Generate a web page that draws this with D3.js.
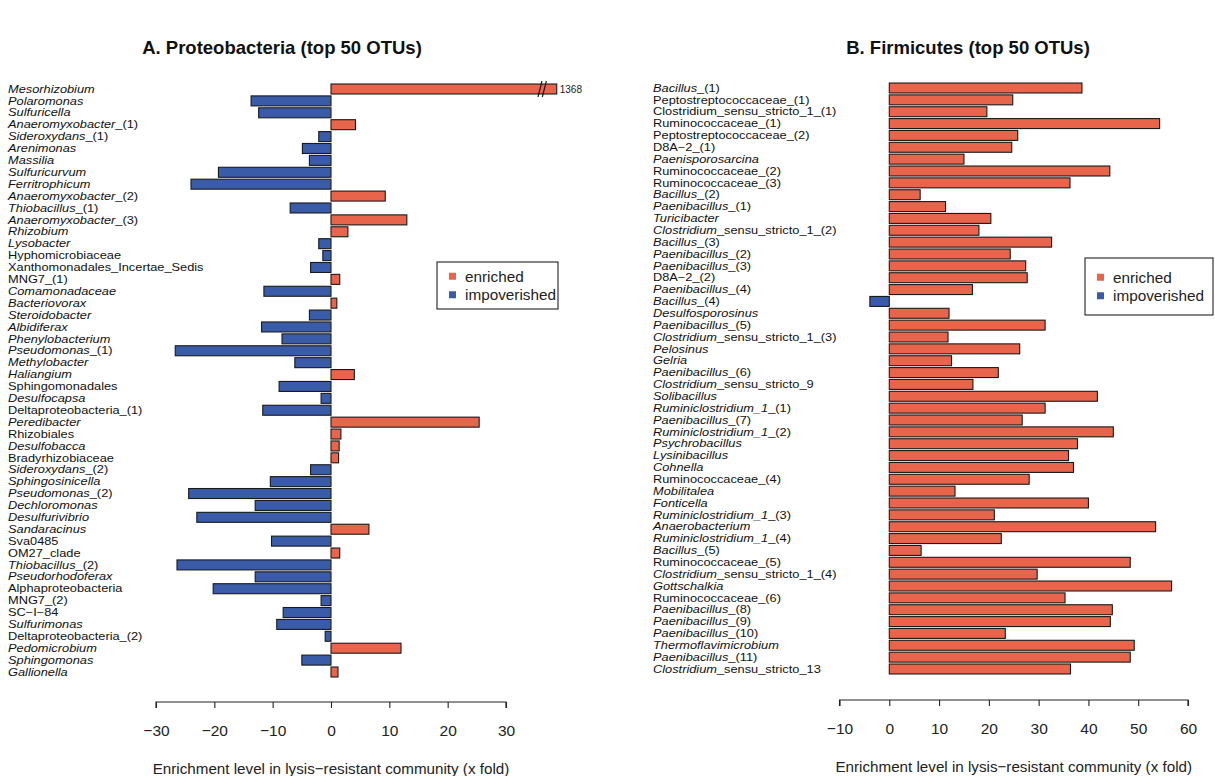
<!DOCTYPE html>
<html>
<head>
<meta charset="utf-8">
<script src="https://cdn.jsdelivr.net/npm/d3@7"></script>
<style>
  html, body { margin: 0; padding: 0; background: #fff; }
  svg { display: block; font-family: "Liberation Sans", Arial, sans-serif; }
</style>
</head>
<body>
<svg id="chart" width="1215" height="776"></svg>
<script>
// Text between asterisks is set in italics (genus names).
const labelsA = [
  "*Mesorhizobium*", "*Polaromonas*", "*Sulfuricella*", "*Anaeromyxobacter*_(1)", "*Sideroxydans*_(1)",
  "*Arenimonas*", "*Massilia*", "*Sulfuricurvum*", "*Ferritrophicum*", "*Anaeromyxobacter*_(2)",
  "*Thiobacillus*_(1)", "*Anaeromyxobacter*_(3)", "*Rhizobium*", "*Lysobacter*", "Hyphomicrobiaceae",
  "Xanthomonadales_Incertae_Sedis", "MNG7_(1)", "*Comamonadaceae*", "*Bacteriovorax*", "*Steroidobacter*",
  "*Albidiferax*", "*Phenylobacterium*", "*Pseudomonas*_(1)", "*Methylobacter*", "*Haliangium*",
  "Sphingomonadales", "*Desulfocapsa*", "Deltaproteobacteria_(1)", "*Peredibacter*", "Rhizobiales",
  "*Desulfobacca*", "Bradyrhizobiaceae", "*Sideroxydans*_(2)", "*Sphingosinicella*", "*Pseudomonas*_(2)",
  "*Dechloromonas*", "*Desulfurivibrio*", "*Sandaracinus*", "Sva0485", "OM27_clade",
  "*Thiobacillus*_(2)", "*Pseudorhodoferax*", "Alphaproteobacteria", "MNG7_(2)", "SC\u2212I\u221284",
  "*Sulfurimonas*", "Deltaproteobacteria_(2)", "*Pedomicrobium*", "*Sphingomonas*", "*Gallionella*"
];
const valuesA = [
  1368, -13.7, -12.4, 4.2, -2.1,
  -4.9, -3.7, -19.3, -24.0, 9.3,
  -7.0, 13.0, 2.9, -2.1, -1.4,
  -3.5, 1.5, -11.5, 1.0, -3.7,
  -11.9, -8.4, -26.7, -6.2, 4.0,
  -8.9, -1.7, -11.7, 25.4, 1.7,
  1.4, 1.3, -3.5, -10.4, -24.4,
  -13.0, -23.0, 6.5, -10.2, 1.5,
  -26.4, -13.0, -20.2, -1.7, -8.2,
  -9.3, -1.0, 12.0, -5.0, 1.2
];
const ticksA = [-30, -20, -10, 0, 10, 20, 30];
// Values past the break are drawn up to breakEndA, with the break mark at breakAtA.
const breakAtA = 36.2;
const breakEndA = 38.7;

const labelsB = [
  "*Bacillus*_(1)", "Peptostreptococcaceae_(1)", "Clostridium_sensu_stricto_1_(1)", "Ruminococcaceae_(1)", "Peptostreptococcaceae_(2)",
  "D8A\u22122_(1)", "*Paenisporosarcina*", "Ruminococcaceae_(2)", "Ruminococcaceae_(3)", "*Bacillus*_(2)",
  "*Paenibacillus*_(1)", "*Turicibacter*", "*Clostridium*_sensu_stricto_1_(2)", "*Bacillus*_(3)", "*Paenibacillus*_(2)",
  "*Paenibacillus*_(3)", "D8A\u22122_(2)", "*Paenibacillus*_(4)", "*Bacillus*_(4)", "*Desulfosporosinus*",
  "*Paenibacillus*_(5)", "*Clostridium*_sensu_stricto_1_(3)", "*Pelosinus*", "*Gelria*", "*Paenibacillus*_(6)",
  "*Clostridium*_sensu_stricto_9", "*Solibacillus*", "*Ruminiclostridium_1*_(1)", "*Paenibacillus*_(7)", "*Ruminiclostridium_1*_(2)",
  "*Psychrobacillus*", "*Lysinibacillus*", "*Cohnella*", "Ruminococcaceae_(4)", "*Mobilitalea*",
  "*Fonticella*", "*Ruminiclostridium_1*_(3)", "*Anaerobacterium*", "*Ruminiclostridium_1*_(4)", "*Bacillus*_(5)",
  "Ruminococcaceae_(5)", "*Clostridium*_sensu_stricto_1_(4)", "*Gottschalkia*", "Ruminococcaceae_(6)", "*Paenibacillus*_(8)",
  "*Paenibacillus*_(9)", "*Paenibacillus*_(10)", "*Thermoflavimicrobium*", "*Paenibacillus*_(11)", "*Clostridium*_sensu_stricto_13"
];
const valuesB = [
  38.7, 24.8, 19.6, 54.3, 25.8,
  24.6, 15.0, 44.3, 36.3, 6.2,
  11.3, 20.4, 18.0, 32.6, 24.3,
  27.4, 27.7, 16.7, -3.9, 12.0,
  31.3, 11.8, 26.2, 12.5, 21.9,
  16.8, 41.8, 31.3, 26.7, 45.0,
  37.8, 36.0, 37.0, 28.1, 13.2,
  40.0, 21.1, 53.5, 22.5, 6.4,
  48.4, 29.7, 56.7, 35.3, 44.8,
  44.4, 23.3, 49.2, 48.4, 36.4
];
const ticksB = [-10, 0, 10, 20, 30, 40, 50, 60];

const legendLabels = ["enriched", "impoverished"];
const colEnriched = "#E8644B";
const colImpoverished = "#3A5BA8";
const axisTitle = "Enrichment level in lysis\u2212resistant community (x fold)";

const svg = d3.select("#chart");

// Row labels are set small and stretched horizontally so that 50 rows fit without collisions.
const labelSize = 10.2;
const labelStretch = 1.255;

function drawLabel(g, text, x, y) {
  const t = g.append("text")
    .attr("transform", `translate(${x},${y}) scale(${labelStretch},1)`)
    .attr("dy", "0.36em")
    .attr("font-size", labelSize)
    .attr("fill", "#111");
  text.split("*").forEach((part, i) => {
    if (!part) return;
    t.append("tspan")
      .attr("font-style", i % 2 === 1 ? "italic" : "normal")
      .text(part);
  });
}

function panel(opts) {
  const g = svg.append("g");
  const x = d3.scaleLinear().domain(opts.domain).range(opts.xRange);
  const y = d3.scalePoint().domain(d3.range(opts.labels.length)).range(opts.yRange);
  const step = y.step();
  const bh = step * 0.84;

  // title
  g.append("text")
    .attr("x", opts.titleX).attr("y", 54)
    .attr("text-anchor", "middle")
    .attr("font-size", 18.5).attr("font-weight", "bold")
    .attr("fill", "#111")
    .text(opts.title);

  // category labels
  opts.labels.forEach((lab, i) => drawLabel(g, lab, opts.labelX, y(i)));

  // bars
  const shown = v => (opts.breakAt !== undefined && v > opts.breakEnd) ? opts.breakEnd : v;
  g.selectAll("rect.bar")
    .data(opts.values)
    .join("rect")
    .attr("class", "bar")
    .attr("x", d => x(Math.min(0, shown(d))))
    .attr("width", d => Math.abs(x(shown(d)) - x(0)))
    .attr("y", (d, i) => y(i) - bh / 2)
    .attr("height", bh)
    .attr("fill", d => d >= 0 ? colEnriched : colImpoverished)
    .attr("stroke", "#1a1a1a")
    .attr("stroke-width", 1.1);

  // axis break on values beyond the scale
  if (opts.breakAt !== undefined) {
    opts.values.forEach((v, i) => {
      if (v <= opts.breakEnd) return;
      const bx = x(opts.breakAt), cy = y(i);
      [-2.2, 2.2].forEach(off => {
        g.append("line")
          .attr("x1", bx + off - 2).attr("y1", cy + bh / 2 + 3)
          .attr("x2", bx + off + 2).attr("y2", cy - bh / 2 - 3)
          .attr("stroke", "#111").attr("stroke-width", 1.1);
      });
      g.append("text")
        .attr("x", x(opts.breakEnd) + 3).attr("y", cy)
        .attr("dy", "0.36em")
        .attr("font-size", 10).attr("fill", "#222")
        .text(d3.format("d")(v));
    });
  }

  // x axis
  const axis = d3.axisBottom(x).tickValues(opts.ticks).tickSize(6).tickPadding(17)
    .tickFormat(d => d3.format("d")(d).replace("-", "\u2212"));
  const ag = g.append("g").attr("transform", `translate(0,${opts.axisY})`).call(axis);
  ag.select(".domain").attr("d", `M${x(opts.ticks[0])},6V0H${x(opts.ticks[opts.ticks.length - 1])}V6`)
    .attr("stroke", "#222").attr("stroke-width", 1.1);
  ag.selectAll(".tick line").attr("stroke", "#222").attr("stroke-width", 1.1);
  ag.selectAll(".tick text").attr("font-size", 15.5).attr("fill", "#222")
    .attr("font-family", "\"Liberation Sans\", Arial, sans-serif");

  g.append("text")
    .attr("x", (x(opts.ticks[0]) + x(opts.ticks[opts.ticks.length - 1])) / 2)
    .attr("y", opts.axisY + 72)
    .attr("text-anchor", "middle")
    .attr("font-size", 15.2).attr("fill", "#222")
    .text(axisTitle);

  // legend
  const L = opts.legend;
  const lg = g.append("g").attr("transform", `translate(${L.x},${L.y})`);
  lg.append("rect").attr("width", L.w).attr("height", L.h)
    .attr("fill", "#fff").attr("stroke", "#222").attr("stroke-width", 1.1);
  legendLabels.forEach((lab, i) => {
    const ly = L.h / 2 + (i - 0.5) * 18.5;
    lg.append("rect")
      .attr("x", 12).attr("y", ly - 3.5).attr("width", 7).attr("height", 7)
      .attr("fill", i === 0 ? colEnriched : colImpoverished);
    lg.append("text")
      .attr("x", 28).attr("y", ly).attr("dy", "0.36em")
      .attr("font-size", 15.3).attr("fill", "#222")
      .text(lab);
  });
}

panel({
  title: "A. Proteobacteria (top 50 OTUs)",
  titleX: 282,
  labels: labelsA, values: valuesA, ticks: ticksA,
  domain: [-30, 30], xRange: [156, 506],
  yRange: [89, 672],
  labelX: 8,
  axisY: 702,
  breakAt: breakAtA, breakEnd: breakEndA,
  legend: { x: 437, y: 262, w: 121, h: 47 }
});

panel({
  title: "B. Firmicutes (top 50 OTUs)",
  titleX: 968,
  labels: labelsB, values: valuesB, ticks: ticksB,
  domain: [-10, 60], xRange: [839.5, 1188],
  yRange: [88, 669],
  labelX: 653,
  axisY: 700,
  legend: { x: 1085, y: 258, w: 128, h: 57 }
});
</script>
</body>
</html>
